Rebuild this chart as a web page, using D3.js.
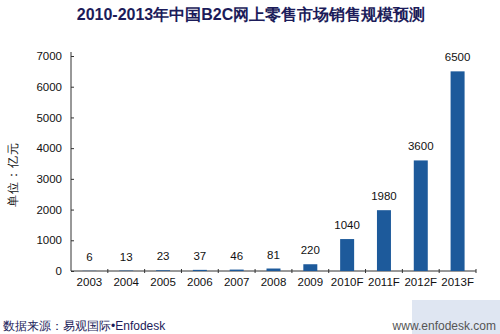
<!DOCTYPE html>
<html><head><meta charset="utf-8">
<script src="https://cdn.jsdelivr.net/npm/d3@7"></script>
<style>
body{margin:0;background:#fff;}
svg text{font-family:"Liberation Sans",Arial,sans-serif;}
</style></head>
<body><div id="chart"></div>
<script>
const categories = ["2003","2004","2005","2006","2007","2008","2009","2010F","2011F","2012F","2013F"];
const values = [6,13,23,37,46,81,220,1040,1980,3600,6500];
const yTicks = [0,1000,2000,3000,4000,5000,6000,7000];
const title = "2010-2013年中国B2C网上零售市场销售规模预测";
const yLabel = "单位：亿元";
const source = "数据来源：易观国际•Enfodesk";
const site = "www.enfodesk.com";

const W = 500, H = 334;
const svg = d3.select("#chart").append("svg").attr("width", W).attr("height", H);

const x = d3.scaleBand().domain(categories).range([71, 476]).paddingInner(0.62).paddingOuter(0.31);
const y = d3.scaleLinear().domain([0, 7000]).range([271, 56]);

// watermark-ish box
svg.append("rect").attr("x", 412).attr("y", 300).attr("width", 88).attr("height", 34)
  .attr("fill", "#dfe6f2");

svg.append("text").attr("x", 251).attr("y", 20).attr("text-anchor", "middle")
  .attr("font-size", 16).attr("font-weight", "bold").attr("fill", "#1c1c5a").text(title);

// y axis
const yAxis = svg.append("g").attr("transform", "translate(71,0)")
  .call(d3.axisLeft(y).tickValues(yTicks).tickSize(-3).tickPadding(9).tickFormat(d3.format("d")));
yAxis.select(".domain").attr("stroke", "#333").attr("d", `M0,${y(7000)-4}V${y(0)}`);
yAxis.selectAll("text").attr("font-size", 11.5).attr("fill", "#111");
yAxis.selectAll(".tick line").attr("stroke", "#333");

// x axis
const xAxis = svg.append("g").attr("transform", `translate(0,${y(0)})`)
  .call(d3.axisBottom(x).tickSize(0).tickPadding(7));
xAxis.select(".domain").attr("stroke", "#333").attr("d", `M71,0H476`);
xAxis.selectAll("text").attr("font-size", 11.5).attr("fill", "#111");
const bounds = categories.map((c,i)=> x(c) - x.step()*x.paddingInner()/2 + x.step());
svg.append("g").selectAll("line").data(bounds).join("line")
  .attr("x1", d=>d).attr("x2", d=>d).attr("y1", y(0)-2).attr("y2", y(0)+2).attr("stroke", "#333");

// bars
svg.append("g").selectAll("rect").data(values).join("rect")
  .attr("x", (d,i)=>x(categories[i])).attr("width", x.bandwidth())
  .attr("y", d=>y(d)).attr("height", d=>y(0)-y(d)).attr("fill", "#1d5a9b");

svg.append("g").selectAll("text").data(values).join("text")
  .attr("x", (d,i)=>x(categories[i]) + x.bandwidth()/2).attr("y", d=>y(d)-10)
  .attr("text-anchor", "middle").attr("font-size", 11.5).attr("fill", "#111").text(d=>d);

svg.append("text").attr("transform", `translate(17,174) rotate(-90)`).attr("text-anchor", "middle")
  .attr("font-size", 12).attr("letter-spacing", 1).attr("fill", "#111").text(yLabel);

svg.append("text").attr("x", 3).attr("y", 330).attr("font-size", 12).attr("fill", "#1c1c5a").text(source);
svg.append("text").attr("x", 496).attr("y", 330).attr("text-anchor", "end").attr("font-size", 12).attr("fill", "#555").text(site);
</script></body></html>
